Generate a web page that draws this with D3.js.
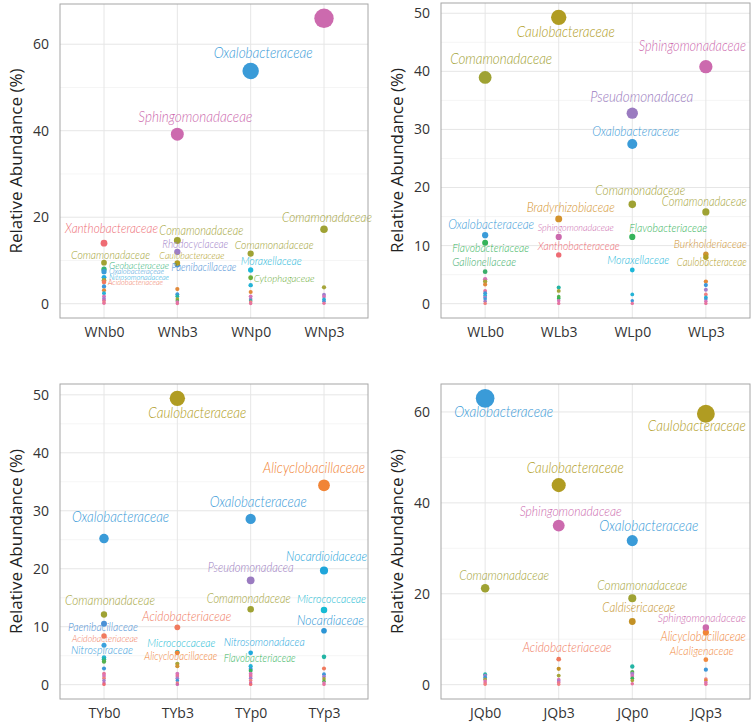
<!DOCTYPE html>
<html>
<head>
<meta charset="utf-8">
<script src="https://cdn.jsdelivr.net/npm/d3@7"></script>
<style>
  body { margin: 0; background: #fff; }
  svg { display: block; }
</style>
</head>
<body>
<div id="chart"></div>
<script>
// samples (x categories) per panel
var samplesWN = ["WNb0", "WNb3", "WNp0", "WNp3"];
var samplesWL = ["WLb0", "WLb3", "WLp0", "WLp3"];
var samplesTY = ["TYb0", "TYb3", "TYp0", "TYp3"];
var samplesJQ = ["JQb0", "JQb3", "JQp0", "JQp3"];

// y tick labels per panel
var yTicksWN = [0, 20, 40, 60];
var yTicksWL = [0, 10, 20, 30, 40, 50];
var yTicksTY = [0, 10, 20, 30, 40, 50];
var yTicksJQ = [0, 20, 40, 60];

// relative abundance (%) of families: [sample, family, value]
var pointsWN = [
  ["WNb0", "Xanthobacteraceae", 14.0], ["WNb0", "Comamonadaceae", 9.5], ["WNb0", "Geobacteraceae", 8.0],
  ["WNb0", "Oxalobacteraceae", 7.4], ["WNb0", "Nitrosomonadaceae", 6.1], ["WNb0", "Hyphomicrobiaceae", 5.4],
  ["WNb0", "Acidobacteriaceae", 5.0], ["WNb0", "Gemmatimonadaceae", 4.0], ["WNb0", "Bacillaceae", 3.1],
  ["WNb0", "Enterobacteriaceae", 2.4], ["WNb0", "Rhodobacteraceae", 1.7], ["WNb0", "Rhizobiaceae", 1.2],
  ["WNb0", "Sphingomonadaceae", 0.8], ["WNb0", "Streptomycetaceae", 0.4], ["WNb0", "Chitinophagaceae", 0.1],
  ["WNb3", "Sphingomonadaceae", 39.2], ["WNb3", "Comamonadaceae", 14.6], ["WNb3", "Rhodocyclaceae", 12.0],
  ["WNb3", "Paenibacillaceae", 9.0], ["WNb3", "Caulobacteraceae", 9.4], ["WNb3", "Bacillaceae", 3.4],
  ["WNb3", "Gemmatimonadaceae", 2.2], ["WNb3", "Sphingobacteriaceae", 1.7], ["WNb3", "Hyphomicrobiaceae", 1.1],
  ["WNb3", "Planctomycetaceae", 0.7], ["WNb3", "Rhodobacteraceae", 0.4], ["WNb3", "Chitinophagaceae", 0.05],
  ["WNp0", "Oxalobacteraceae", 53.8], ["WNp0", "Comamonadaceae", 11.6], ["WNp0", "Moraxellaceae", 7.8],
  ["WNp0", "Cytophagaceae", 6.0], ["WNp0", "Enterobacteriaceae", 4.3], ["WNp0", "Bacillaceae", 2.7],
  ["WNp0", "Rhodobacteraceae", 1.7], ["WNp0", "Rhizobiaceae", 1.1], ["WNp0", "Sphingobacteriaceae", 0.7],
  ["WNp0", "Streptomycetaceae", 0.4], ["WNp0", "Chitinophagaceae", 0.05],
  ["WNp3", "Sphingomonadaceae", 66.0], ["WNp3", "Comamonadaceae", 17.2], ["WNp3", "Hyphomicrobiaceae", 3.8],
  ["WNp3", "Rhizobiaceae", 2.1], ["WNp3", "Rhodobacteraceae", 1.6], ["WNp3", "Enterobacteriaceae", 1.0],
  ["WNp3", "Gemmatimonadaceae", 0.6], ["WNp3", "Chitinophagaceae", 0.1]
];
var pointsWL = [
  ["WLb0", "Comamonadaceae", 38.95], ["WLb0", "Oxalobacteraceae", 11.8], ["WLb0", "Flavobacteriaceae", 10.5],
  ["WLb0", "Gallionellaceae", 5.5], ["WLb0", "Rhodobacteraceae", 4.2], ["WLb0", "Hyphomicrobiaceae", 3.8],
  ["WLb0", "Bacillaceae", 3.3], ["WLb0", "Chitinophagaceae", 2.2], ["WLb0", "Gemmatimonadaceae", 1.8],
  ["WLb0", "Enterobacteriaceae", 1.4], ["WLb0", "Rhizobiaceae", 1.1], ["WLb0", "Nitrospiraceae", 0.8],
  ["WLb0", "Rhodocyclaceae", 0.4], ["WLb0", "Streptomycetaceae", 0.05],
  ["WLb3", "Caulobacteraceae", 49.3], ["WLb3", "Bradyrhizobiaceae", 14.6], ["WLb3", "Sphingomonadaceae", 11.5],
  ["WLb3", "Xanthobacteraceae", 8.4], ["WLb3", "Sphingobacteriaceae", 2.8], ["WLb3", "Hyphomicrobiaceae", 2.2],
  ["WLb3", "Planctomycetaceae", 1.2], ["WLb3", "Flavobacteriaceae", 0.9], ["WLb3", "Rhodobacteraceae", 0.5],
  ["WLb3", "Chitinophagaceae", 0.05],
  ["WLp0", "Pseudomonadacea", 32.8], ["WLp0", "Oxalobacteraceae", 27.5], ["WLp0", "Comamonadaceae", 17.1],
  ["WLp0", "Flavobacteriaceae", 11.5], ["WLp0", "Moraxellaceae", 5.8], ["WLp0", "Enterobacteriaceae", 1.6],
  ["WLp0", "Gemmatimonadaceae", 0.5], ["WLp0", "Chitinophagaceae", 0.05],
  ["WLp3", "Sphingomonadaceae", 40.8], ["WLp3", "Comamonadaceae", 15.8], ["WLp3", "Burkholderiaceae", 8.5],
  ["WLp3", "Caulobacteraceae", 8.0], ["WLp3", "Bacillaceae", 3.8], ["WLp3", "Gemmatimonadaceae", 3.2],
  ["WLp3", "Rhizobiaceae", 2.4], ["WLp3", "Streptomycetaceae", 1.6], ["WLp3", "Enterobacteriaceae", 1.1],
  ["WLp3", "Oxalobacteraceae", 0.8], ["WLp3", "Rhodobacteraceae", 0.4], ["WLp3", "Chitinophagaceae", 0.05]
];
var pointsTY = [
  ["TYb0", "Oxalobacteraceae", 25.2], ["TYb0", "Comamonadaceae", 12.1], ["TYb0", "Paenibacillaceae", 10.5],
  ["TYb0", "Acidobacteriaceae", 8.4], ["TYb0", "Nitrospiraceae", 6.8], ["TYb0", "Enterobacteriaceae", 4.7],
  ["TYb0", "Sphingobacteriaceae", 4.4], ["TYb0", "Planctomycetaceae", 4.0], ["TYb0", "Gemmatimonadaceae", 2.8],
  ["TYb0", "Chitinophagaceae", 1.9], ["TYb0", "Rhodobacteraceae", 1.5], ["TYb0", "Streptomycetaceae", 1.1],
  ["TYb0", "Rhizobiaceae", 0.7], ["TYb0", "Sphingomonadaceae", 0.3], ["TYb0", "Xanthobacteraceae", 0.05],
  ["TYb3", "Caulobacteraceae", 49.4], ["TYb3", "Acidobacteriaceae", 9.9], ["TYb3", "Micrococcaceae", 5.6],
  ["TYb3", "Alicyclobacillaceae", 5.5], ["TYb3", "Hyphomicrobiaceae", 3.6], ["TYb3", "Burkholderiaceae", 3.2],
  ["TYb3", "Rhodobacteraceae", 1.9], ["TYb3", "Chitinophagaceae", 1.5], ["TYb3", "Rhizobiaceae", 1.1],
  ["TYb3", "Gemmatimonadaceae", 0.7], ["TYb3", "Streptomycetaceae", 0.3], ["TYb3", "Sphingomonadaceae", 0.05],
  ["TYp0", "Oxalobacteraceae", 28.6], ["TYp0", "Pseudomonadacea", 18.0], ["TYp0", "Comamonadaceae", 13.0],
  ["TYp0", "Nitrosomonadacea", 5.5], ["TYp0", "Enterobacteriaceae", 3.2], ["TYp0", "Gemmatimonadaceae", 2.7],
  ["TYp0", "Flavobacteriaceae", 2.4], ["TYp0", "Rhodobacteraceae", 1.9], ["TYp0", "Chitinophagaceae", 1.5],
  ["TYp0", "Rhizobiaceae", 1.1], ["TYp0", "Streptomycetaceae", 0.7], ["TYp0", "Sphingomonadaceae", 0.3],
  ["TYp0", "Xanthobacteraceae", 0.05],
  ["TYp3", "Alicyclobacillaceae", 34.4], ["TYp3", "Nocardioidaceae", 19.7], ["TYp3", "Micrococcaceae", 12.9],
  ["TYp3", "Nocardiaceae", 9.3], ["TYp3", "Sphingobacteriaceae", 4.8], ["TYp3", "Acidobacteriaceae", 2.8],
  ["TYp3", "Gemmatimonadaceae", 1.8], ["TYp3", "Rhizobiaceae", 1.4], ["TYp3", "Hyphomicrobiaceae", 1.0],
  ["TYp3", "Planctomycetaceae", 0.6], ["TYp3", "Rhodobacteraceae", 0.3], ["TYp3", "Chitinophagaceae", 0.05]
];
var pointsJQ = [
  ["JQb0", "Oxalobacteraceae", 63.0], ["JQb0", "Comamonadaceae", 21.2], ["JQb0", "Sphingobacteriaceae", 2.3],
  ["JQb0", "Rhizobiaceae", 2.0], ["JQb0", "Gemmatimonadaceae", 1.6], ["JQb0", "Hyphomicrobiaceae", 1.2],
  ["JQb0", "Rhodobacteraceae", 0.8], ["JQb0", "Chitinophagaceae", 0.4], ["JQb0", "Streptomycetaceae", 0.1],
  ["JQb3", "Caulobacteraceae", 43.9], ["JQb3", "Sphingomonadaceae", 35.0], ["JQb3", "Acidobacteriaceae", 5.6],
  ["JQb3", "Caldisericaceae", 3.5], ["JQb3", "Hyphomicrobiaceae", 2.0], ["JQb3", "Rhodobacteraceae", 1.1],
  ["JQb3", "Rhizobiaceae", 0.8], ["JQb3", "Chitinophagaceae", 0.5], ["JQb3", "Streptomycetaceae", 0.1],
  ["JQp0", "Oxalobacteraceae", 31.7], ["JQp0", "Comamonadaceae", 19.0], ["JQp0", "Caldisericaceae", 13.9],
  ["JQp0", "Sphingobacteriaceae", 4.0], ["JQp0", "Planctomycetaceae", 2.8], ["JQp0", "Rhizobiaceae", 2.4],
  ["JQp0", "Rhodobacteraceae", 1.9], ["JQp0", "Flavobacteriaceae", 1.4], ["JQp0", "Hyphomicrobiaceae", 0.9],
  ["JQp0", "Chitinophagaceae", 0.2],
  ["JQp3", "Caulobacteraceae", 59.6], ["JQp3", "Alicyclobacillaceae", 11.5], ["JQp3", "Sphingomonadaceae", 12.6],
  ["JQp3", "Alcaligenaceae", 5.5], ["JQp3", "Gemmatimonadaceae", 3.3], ["JQp3", "Streptomycetaceae", 1.25],
  ["JQp3", "Bacillaceae", 0.9], ["JQp3", "Rhodobacteraceae", 0.5], ["JQp3", "Chitinophagaceae", 0.1]
];

// family colours
var familyColor = {
  Sphingomonadaceae: "#cc6aae", Oxalobacteraceae: "#3a9bd8", Comamonadaceae: "#9fa233",
  Caulobacteraceae: "#b09c22", Xanthobacteraceae: "#ee6b73", Rhodocyclaceae: "#9d7dc8",
  Pseudomonadacea: "#9a7bc0", Geobacteraceae: "#35b47a", Nitrosomonadaceae: "#22abe0",
  Nitrosomonadacea: "#1fa8dc", Acidobacteriaceae: "#f07a5e", Paenibacillaceae: "#4a90d6",
  Moraxellaceae: "#1db8da", Cytophagaceae: "#6dae3a", Bradyrhizobiaceae: "#d3922c",
  Flavobacteriaceae: "#34b35a", Gallionellaceae: "#3bae6a", Burkholderiaceae: "#cf9433",
  Alicyclobacillaceae: "#f18436", Nocardioidaceae: "#1ea5da", Micrococcaceae: "#16bbd4",
  Nocardiaceae: "#2b95d5", Nitrospiraceae: "#3aa0dd", Caldisericaceae: "#c39125",
  Alcaligenaceae: "#f18a40", Chitinophagaceae: "#e6739e", Rhodobacteraceae: "#d874b8",
  Rhizobiaceae: "#a47fcb", Sphingobacteriaceae: "#23b4a4", Bacillaceae: "#e1893a",
  Hyphomicrobiaceae: "#a6a53a", Planctomycetaceae: "#54b14d", Gemmatimonadaceae: "#3e97d9",
  Enterobacteriaceae: "#24b3d6", Streptomycetaceae: "#f08080"
};

// label layout: "sample|family" -> [dx, dy, text width] (pixels from point)
var labelLayout = {
  "WNb0|Xanthobacteraceae": [7.5, -10.3, 93], "WNb0|Comamonadaceae": [6.5, -4, 79],
  "WNb0|Geobacteraceae": [35, 0, 60], "WNb0|Oxalobacteraceae": [32.5, 2, 55],
  "WNb0|Nitrosomonadaceae": [35, 2.3, 60], "WNb0|Acidobacteriaceae": [31.5, 2.7, 55],
  "WNb3|Sphingomonadaceae": [18, -12.6, 114], "WNb3|Comamonadaceae": [24, -5.3, 84],
  "WNb3|Rhodocyclaceae": [18, -4, 66], "WNb3|Caulobacteraceae": [14.5, -4, 65],
  "WNb3|Paenibacillaceae": [26.5, 5.8, 65],
  "WNp0|Oxalobacteraceae": [12.5, -13, 99], "WNp0|Comamonadaceae": [23.5, -5, 79],
  "WNp0|Moraxellaceae": [20.5, -5, 61], "WNp0|Cytophagaceae": [33.5, 4.3, 61],
  "WNp3|Comamonadaceae": [3, -7.6, 90],
  "WLb0|Comamonadaceae": [16, -13.3, 102], "WLb0|Oxalobacteraceae": [6, -6.3, 86],
  "WLb0|Flavobacteriaceae": [5.5, 9, 77], "WLb0|Gallionellaceae": [-1, -5.3, 64],
  "WLb3|Caulobacteraceae": [7, 19.4, 98], "WLb3|Bradyrhizobiaceae": [12, -6.7, 88],
  "WLb3|Sphingomonadaceae": [17, -6.3, 76], "WLb3|Xanthobacteraceae": [20, -5.3, 82],
  "WLp0|Pseudomonadacea": [9.5, -11.6, 103], "WLp0|Oxalobacteraceae": [3.5, -8.3, 87],
  "WLp0|Comamonadaceae": [8, -9, 90], "WLp0|Flavobacteriaceae": [36, -5, 78],
  "WLp0|Moraxellaceae": [6, -6, 62],
  "WLp3|Sphingomonadaceae": [-13.5, -16, 107], "WLp3|Comamonadaceae": [-1.5, -5.6, 85],
  "WLp3|Burkholderiaceae": [4.5, -6, 73], "WLp3|Caulobacteraceae": [6, 8.7, 70],
  "TYb0|Oxalobacteraceae": [16.5, -16.7, 97], "TYb0|Comamonadaceae": [6, -10, 90],
  "TYb0|Paenibacillaceae": [-1, 6.7, 70], "TYb0|Acidobacteriaceae": [1, 5.7, 66],
  "TYb0|Nitrospiraceae": [-2, 8.7, 62],
  "TYb3|Caulobacteraceae": [20, 20, 98], "TYb3|Acidobacteriaceae": [9.5, -6.6, 89],
  "TYb3|Micrococcaceae": [4, -4.8, 68], "TYb3|Alicyclobacillaceae": [3.5, 7.7, 73],
  "TYp0|Oxalobacteraceae": [7.5, -11.7, 97], "TYp0|Pseudomonadacea": [0, -8, 86],
  "TYp0|Comamonadaceae": [-2, -6, 84], "TYp0|Nitrosomonadacea": [13.5, -6.3, 81],
  "TYp0|Flavobacteriaceae": [9, -8.8, 72],
  "TYp3|Alicyclobacillaceae": [-10, -12.4, 102], "TYp3|Nocardioidaceae": [2.5, -9.7, 81],
  "TYp3|Micrococcaceae": [7.5, -6.7, 69], "TYp3|Nocardiaceae": [6.5, -5.3, 67],
  "JQb0|Oxalobacteraceae": [18.5, 18.4, 99], "JQb0|Comamonadaceae": [19, -8.3, 90],
  "JQb3|Caulobacteraceae": [16.5, -12, 97], "JQb3|Sphingomonadaceae": [12, -9.7, 102],
  "JQb3|Acidobacteriaceae": [8.5, -7.6, 89],
  "JQp0|Oxalobacteraceae": [16.5, -9.7, 99], "JQp0|Comamonadaceae": [10, -8.7, 90],
  "JQp0|Caldisericaceae": [6.5, -9.4, 73],
  "JQp3|Caulobacteraceae": [-9, 17.7, 98], "JQp3|Sphingomonadaceae": [-4, -5, 88],
  "JQp3|Alicyclobacillaceae": [-2.5, 8.6, 85], "JQp3|Alcaligenaceae": [-4, -4.7, 64]
};

var panels = [
  { samples: samplesWN, ticks: yTicksWN, points: pointsWN, left: 60, right: 368, top: 4, bottom: 318, titleX: 16 },
  { samples: samplesWL, ticks: yTicksWL, points: pointsWL, left: 441, right: 750, top: 3, bottom: 318, titleX: 397 },
  { samples: samplesTY, ticks: yTicksTY, points: pointsTY, left: 60, right: 368, top: 384, bottom: 699, titleX: 16 },
  { samples: samplesJQ, ticks: yTicksJQ, points: pointsJQ, left: 441, right: 750, top: 384, bottom: 699, titleX: 397 }
];

var svg = d3.select("#chart").append("svg")
  .attr("width", 754)
  .attr("height", 727);

// point radius grows with abundance
var rScale = d3.scaleLinear().domain([0, 66]).range([1.7, 9.7]);

panels.forEach(function (p) {
  var maxV = d3.max(p.points, d => d[2]);
  var y = d3.scaleLinear()
    .domain([-0.05 * maxV, 1.05 * maxV])
    .range([p.bottom, p.top]);
  var x = d3.scalePoint()
    .domain(p.samples)
    .range([p.left, p.right])
    .padding(0.6);

  var g = svg.append("g");

  // minor grid
  var step = p.ticks[1] - p.ticks[0];
  var minor = p.ticks.map(t => t + step / 2).filter(t => y(t) > p.top);
  g.selectAll(".minor").data(minor).enter().append("line")
    .attr("x1", p.left).attr("x2", p.right)
    .attr("y1", d => y(d)).attr("y2", d => y(d))
    .attr("stroke", "#f3f3f3").attr("stroke-width", 0.8);

  // major grid
  g.selectAll(".major").data(p.ticks).enter().append("line")
    .attr("x1", p.left).attr("x2", p.right)
    .attr("y1", d => y(d)).attr("y2", d => y(d))
    .attr("stroke", "#e6e6e6").attr("stroke-width", 1);
  g.selectAll(".vgrid").data(p.samples).enter().append("line")
    .attr("x1", d => x(d)).attr("x2", d => x(d))
    .attr("y1", p.top).attr("y2", p.bottom)
    .attr("stroke", "#e6e6e6").attr("stroke-width", 1);

  // axes
  var yAxis = d3.axisLeft(y).tickValues(p.ticks).tickSize(0).tickPadding(11);
  var ya = g.append("g").attr("transform", `translate(${p.left},0)`).call(yAxis);
  var xAxis = d3.axisBottom(x).tickSize(0).tickPadding(9);
  var xa = g.append("g").attr("transform", `translate(0,${p.bottom})`).call(xAxis);
  [ya, xa].forEach(a => {
    a.select(".domain").remove();
    a.selectAll("text")
      .attr("font-family", "'Open Sans', sans-serif")
      .attr("font-size", 14)
      .attr("fill", "#333");
  });

  // y title
  g.append("text")
    .attr("transform", `translate(${p.titleX},${(p.top + p.bottom) / 2}) rotate(-90)`)
    .attr("text-anchor", "middle")
    .attr("dy", "0.35em")
    .attr("font-family", "'Open Sans', sans-serif")
    .attr("font-size", 17)
    .attr("fill", "#222")
    .text("Relative Abundance (%)");

  // points
  g.selectAll(".pt").data(p.points).enter().append("circle")
    .attr("cx", d => x(d[0]))
    .attr("cy", d => y(d[2]))
    .attr("r", d => rScale(d[2]))
    .attr("fill", d => familyColor[d[1]]);

  // labels: a narrow-looking italic, squeezed to the width seen in the reference
  var labelled = p.points.filter(d => labelLayout[d[0] + "|" + d[1]]);
  g.selectAll(".lab").data(labelled).enter().append("text")
    .attr("x", d => x(d[0]) + labelLayout[d[0] + "|" + d[1]][0])
    .attr("y", d => y(d[2]) + labelLayout[d[0] + "|" + d[1]][1])
    .attr("text-anchor", "middle")
    .attr("font-family", "Lato, sans-serif")
    .attr("font-style", "italic")
    .attr("font-weight", 300)
    .attr("font-size", 10)
    .attr("fill", d => familyColor[d[1]])
    .text(d => d[1])
    .each(function (d) {
      var w = labelLayout[d[0] + "|" + d[1]][2];
      var len = this.getComputedTextLength();
      var fs = 10 * w / len * (w < 62 ? 1.05 : 1.15);
      d3.select(this)
        .attr("font-size", fs)
        .attr("textLength", w)
        .attr("lengthAdjust", "spacingAndGlyphs");
    });

  // panel border
  g.append("rect")
    .attr("x", p.left).attr("y", p.top)
    .attr("width", p.right - p.left).attr("height", p.bottom - p.top)
    .attr("fill", "none").attr("stroke", "#a6a6a6").attr("stroke-width", 1);
});
</script>
</body>
</html>
